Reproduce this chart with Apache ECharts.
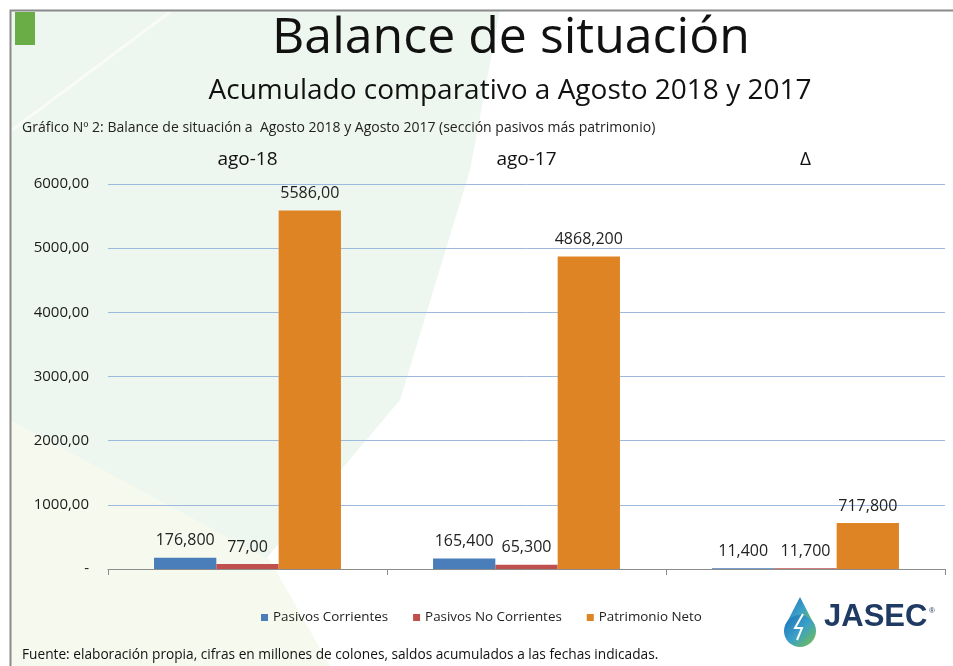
<!DOCTYPE html>
<html>
<head>
<meta charset="utf-8">
<script src="https://cdn.jsdelivr.net/npm/echarts@6/dist/echarts.min.js"></script>
<style>
  html, body { margin: 0; padding: 0; background: #fff; }
  #main { width: 953px; height: 666px; }
</style>
</head>
<body>
<div id="main"></div>
<script>
// datos del gráfico
var categorias = ['ago-18', 'ago-17', 'Δ'];
var pasivosCorrientes = [176.8, 165.4, 11.4];
var pasivosNoCorrientes = [77.0, 65.3, 11.7];
var patrimonioNeto = [5586.0, 4868.2, 717.8];
// etiquetas tal como aparecen en el gráfico original
var etqCorrientes = ['176,800', '165,400', '11,400'];
var etqNoCorrientes = ['77,00', '65,300', '11,700'];
var etqPatrimonio = ['5586,00', '4868,200', '717,800'];
var ticksY = ['-', '1000,00', '2000,00', '3000,00', '4000,00', '5000,00', '6000,00'];

var fuente = 'Open Sans';
var chart = echarts.init(document.getElementById('main'));

function etiqueta(lista) {
    return {
        show: true,
        position: 'top',
        distance: 9,
        fontFamily: fuente,
        fontSize: 16,
        color: '#222',
        formatter: function (p) { return lista[p.dataIndex]; }
    };
}

var gotaColor = new echarts.graphic.LinearGradient(0, 0, 1, 1, [
    { offset: 0, color: '#1c6fb8' }, { offset: 0.5, color: '#3aa0c8' }, { offset: 1, color: '#7cc242' }]);

var option = {
    animation: false,
    backgroundColor: '#ffffff',
    title: [
        { text: 'Balance de situación', left: 511, top: 14, textAlign: 'center', padding: 0,
          textStyle: { fontFamily: fuente, fontSize: 50, fontWeight: 'normal', color: '#111' } },
        { text: 'Acumulado comparativo a Agosto 2018 y 2017', left: 510, top: 77, textAlign: 'center', padding: 0,
          textStyle: { fontFamily: fuente, fontSize: 28, fontWeight: 'normal', color: '#111' } },
        { text: 'Gráfico Nº 2: Balance de situación a  Agosto 2018 y Agosto 2017 (sección pasivos más patrimonio)',
          left: 22, top: 121, padding: 0,
          textStyle: { fontFamily: fuente, fontSize: 14, fontWeight: 'normal', color: '#222' } },
        { text: 'Fuente: elaboración propia, cifras en millones de colones, saldos acumulados a las fechas indicadas.',
          left: 22, top: 648, padding: 0,
          textStyle: { fontFamily: fuente, fontSize: 13.7, fontWeight: 'normal', color: '#111' } }
    ],
    legend: {
        left: 256, top: 606,
        itemWidth: 7, itemHeight: 7, itemGap: 25,
        icon: 'rect',
        textStyle: { fontFamily: fuente, fontSize: 13.4, color: '#222' },
        data: ['Pasivos Corrientes', 'Pasivos No Corrientes', 'Patrimonio Neto']
    },
    grid: { left: 108, right: 8, top: 184, bottom: 97 },
    xAxis: [
        {
            type: 'category', position: 'bottom', data: categorias,
            axisLine: { lineStyle: { color: '#8c8c8c' } },
            axisTick: { show: true, length: 6, lineStyle: { color: '#8c8c8c' } },
            axisLabel: { show: false }
        },
        {
            type: 'category', position: 'top', data: categorias,
            axisLine: { show: false }, axisTick: { show: false },
            axisLabel: { show: true, margin: 15, fontFamily: fuente, fontSize: 19, color: '#111' }
        }
    ],
    yAxis: {
        type: 'value', min: 0, max: 6000, interval: 1000,
        axisLine: { show: false }, axisTick: { show: false },
        axisLabel: {
            margin: 19, fontFamily: fuente, fontSize: 15, color: '#1a1a1a',
            formatter: function (v) { return ticksY[Math.round(v / 1000)]; }
        },
        splitLine: { lineStyle: { color: '#9db9de', width: 1 } }
    },
    series: [
        { name: 'Pasivos Corrientes', type: 'bar', data: pasivosCorrientes,
          barGap: '0%', barCategoryGap: '33%',
          itemStyle: { color: '#4a7ebb' }, label: etiqueta(etqCorrientes) },
        { name: 'Pasivos No Corrientes', type: 'bar', data: pasivosNoCorrientes,
          itemStyle: { color: '#c0504d' }, label: etiqueta(etqNoCorrientes) },
        { name: 'Patrimonio Neto', type: 'bar', data: patrimonioNeto,
          itemStyle: { color: '#df8425' }, label: etiqueta(etqPatrimonio) }
    ],
    graphic: [
        // fondo verde claro a la izquierda
        { type: 'polygon', z: -10, silent: true,
          shape: { points: [[10, 10], [500, 10], [470, 170], [400, 400], [265, 560], [200, 666], [10, 666]] },
          style: { fill: '#eef6f0' } },
        { type: 'polygon', z: -9, silent: true,
          shape: { points: [[10, 420], [270, 560], [330, 666], [10, 666]] },
          style: { fill: '#f6faee' } },
        { type: 'line', z: -8, silent: true,
          shape: { x1: 12, y1: 130, x2: 170, y2: 12 },
          style: { stroke: '#f8fbf8', lineWidth: 3 } },
        // marco
        { type: 'rect', z: 50, silent: true,
          shape: { x: 10.5, y: 10.5, width: 960, height: 700 },
          style: { fill: 'none', stroke: '#8a8a8a', lineWidth: 2 } },
        // cuadro verde
        { type: 'rect', z: 51, silent: true,
          shape: { x: 15, y: 12, width: 20, height: 33 },
          style: { fill: '#6aac46' } },
        // logo JASEC
        { type: 'polygon', z: 51, silent: true,
          shape: { points: [[800, 597], [785, 626], [815, 626]] },
          style: { fill: gotaColor } },
        { type: 'circle', z: 51, silent: true,
          shape: { cx: 800, cy: 631, r: 16 },
          style: { fill: gotaColor } },
        { type: 'polyline', z: 52, silent: true,
          shape: { points: [[803, 614], [795, 628], [802, 628], [797, 640]] },
          style: { stroke: '#ffffff', lineWidth: 2, fill: 'none' } },
        { type: 'text', z: 52, silent: true, left: 824, top: 602,
          style: { text: 'JASEC', fontFamily: 'Liberation Sans', fontWeight: 'bold', fontSize: 31, fill: '#1f3b63' } },
        { type: 'text', z: 52, silent: true, left: 929, top: 607,
          style: { text: '®', fontFamily: 'Liberation Sans', fontSize: 8, fill: '#1f3b63' } }
    ]
};

chart.setOption(option);
</script>
</body>
</html>
